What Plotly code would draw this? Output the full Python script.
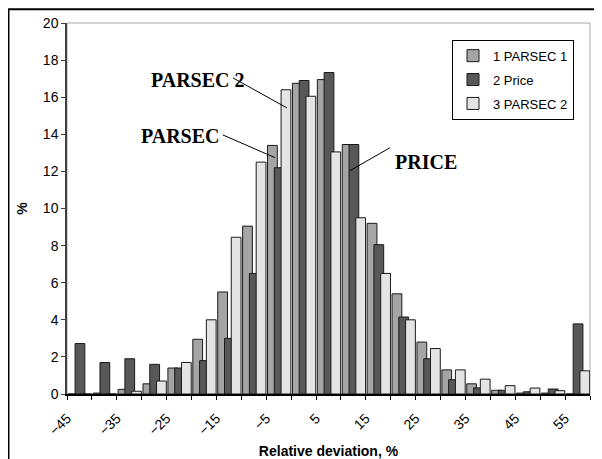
import plotly.graph_objects as go

# Histogram bins (lower edge of each 5 %-wide bin)
bin_lower = [-45, -40, -35, -30, -25, -20, -15, -10, -5, 0, 5, 10, 15, 20, 25, 30, 35, 40, 45, 50, 55]

parsec1 = [0.0, 0.05, 0.25, 0.55, 1.4, 2.95, 5.5, 9.05, 13.4, 16.75, 16.95, 13.45, 9.2, 5.4, 2.8, 1.3, 0.55, 0.2, 0.05, 0.05, 0.0]
price = [2.72, 1.7, 1.9, 1.6, 1.4, 1.8, 3.0, 6.5, 12.2, 16.9, 17.33, 13.45, 8.05, 4.15, 1.9, 0.77, 0.33, 0.2, 0.12, 0.27, 3.78]
parsec2 = [0.0, 0.0, 0.15, 0.7, 1.7, 4.0, 8.45, 12.5, 16.4, 16.05, 13.05, 9.5, 6.5, 4.0, 2.45, 1.3, 0.8, 0.45, 0.32, 0.18, 1.25]

series_names = ["1 PARSEC 1", "2 Price", "3 PARSEC 2"]
series_colors = ["#a5a5a5", "#585858", "#e4e4e4"]

bin_centers = [b + 2.5 for b in bin_lower]

SANS = "Liberation Sans, Arial, sans-serif"
SERIF = "Liberation Serif, Times New Roman, serif"

fig = go.Figure()
offsets = [-2.24, -0.88, 0.48]
for name, vals, col, off in zip(series_names, [parsec1, price, parsec2], series_colors, offsets):
    fig.add_trace(go.Bar(
        x=bin_centers, y=vals, name=name, legendgroup=name,
        width=1.96, offset=off,
        marker=dict(color=col, line=dict(color="#1a1a1a", width=1)),
    ))

# text labels pointing at the series
labels = [
    dict(text="PARSEC 2", tx=-18.7, ty=16.93, lx0=-11.67, ly0=17.04, lx1=-0.83, ly1=15.42),
    dict(text="PARSEC", tx=-22.25, ty=13.91, lx0=-13.74, ly0=13.97, lx1=-3.24, ly1=12.74),
    dict(text="PRICE", tx=27.04, ty=12.49, lx0=19.86, ly0=13.28, lx1=11.82, ly1=12.04),
]
annotations = []
shapes = [
    # plot-area frame (gray)
    dict(type="rect", xref="paper", yref="paper", x0=0, x1=1, y0=0, y1=1,
         line=dict(color="#a8a8a8", width=1), layer="below"),
    # outer chart frame
    dict(type="rect", xref="paper", yref="paper", x0=-0.1119, x1=1.2, y0=-0.4, y1=1.0369,
         line=dict(color="#000000", width=2), layer="above"),
]
for lab in labels:
    annotations.append(dict(x=lab["tx"], y=lab["ty"], xref="x", yref="y", text=lab["text"],
                            showarrow=False, font=dict(family=SERIF, size=20, color="#000", weight="bold")))
    shapes.append(dict(type="line", xref="x", yref="y", x0=lab["lx0"], y0=lab["ly0"],
                       x1=lab["lx1"], y1=lab["ly1"], line=dict(color="#000", width=1)))

# the page body has an 8px margin, so the figure is offset by 8px in the window
fig.update_layout(
    width=586, height=451,
    margin=dict(l=59, r=4, t=15, b=65, autoexpand=False),
    paper_bgcolor="white", plot_bgcolor="white",
    barmode="overlay",
    font=dict(family=SANS, size=14, color="#000"),
    showlegend=True,
    legend=dict(x=(452 - 67) / 523, y=0.955, xanchor="left", yanchor="top",
                bgcolor="white", bordercolor="#000", borderwidth=1,
                font=dict(family=SANS, size=13, color="#000"),
                tracegroupgap=4, traceorder="grouped"),
    annotations=annotations,
    shapes=shapes,
    xaxis=dict(
        range=[-45, 60], tickmode="linear", tick0=-45, dtick=10,
        ticks="outside", ticklen=4, tickcolor="#000", tickangle=-45,
        ticklabelstandoff=5, automargin=True,
        minor=dict(tick0=-45, dtick=5, ticks="outside", ticklen=4, tickcolor="#000"),
        showline=True, linecolor="#000", linewidth=1.5,
        showgrid=False, zeroline=False,
        tickfont=dict(family=SANS, size=14),
        title=dict(text="Relative deviation, %", font=dict(family=SANS, size=14, weight="bold"), standoff=9),
    ),
    yaxis=dict(
        range=[0, 20], tickmode="linear", tick0=0, dtick=2,
        ticks="outside", ticklen=4, tickcolor="#404040", automargin=True,
        showline=True, linecolor="#404040", linewidth=1.5,
        showgrid=False, zeroline=False,
        tickfont=dict(family=SANS, size=14),
        title=dict(text="%", font=dict(family=SANS, size=14, weight="bold"), standoff=12),
    ),
)

fig.write_html("out.html")
